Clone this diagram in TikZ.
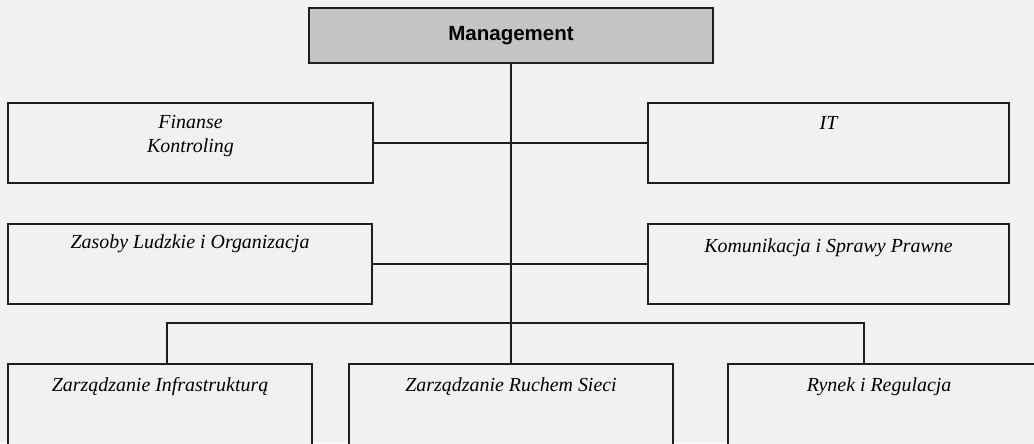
\documentclass[tikz,border=0pt]{standalone}
\usepackage{fontspec}
\setmainfont{Liberation Serif}
\newfontfamily\headfont{Liberation Sans}
\usepackage{tikz}
\usetikzlibrary{positioning}
\definecolor{orgpaper}{RGB}{241,241,241}
\definecolor{orghead}{RGB}{196,196,196}
\definecolor{orgline}{RGB}{30,30,30}
\newcommand\orgpx{0.03cm}

\tikzset{
  unitbox/.style={draw=orgline, line width=1.8pt, fill=orgpaper, anchor=north west, inner sep=0pt},
  headbox/.style={unitbox, fill=orghead, font=\headfont\fontsize{17.5}{20}\selectfont\bfseries},
  unitlabel/.style={font=\fontsize{17}{20.5}\selectfont\itshape, align=center, inner sep=0pt},
  link/.style={draw=orgline, line width=1.6pt}
}

\begin{document}
\begin{tikzpicture}[x=0.03cm, y=-0.03cm]
% ---- frame ----
\useasboundingbox (0,0) rectangle (1034,443);
\fill[orgpaper] (0,0) rectangle (1034,443);
\clip (0,0) rectangle (1034,443);

% ---- top ----
\node[headbox, minimum width=404*\orgpx, minimum height=55*\orgpx] (mgmt) at (308,7) {Management};

% ---- first row ----
\node[unitbox, minimum width=365*\orgpx, minimum height=80*\orgpx] (fin) at (7,102) {};
\node[unitlabel, below=13*\orgpx of fin.north] (fin-txt) {Finanse\\Kontroling};
\node[unitbox, minimum width=361*\orgpx, minimum height=80*\orgpx] (it) at (647,102) {};
\node[unitlabel, below=14*\orgpx of it.north] (it-txt) {IT};

% ---- second row ----
\node[unitbox, minimum width=364*\orgpx, minimum height=80*\orgpx] (zas) at (7,223) {};
\node[unitlabel, below=11*\orgpx of zas.north] (zas-txt) {Zasoby Ludzkie i Organizacja};
\node[unitbox, minimum width=361*\orgpx, minimum height=80*\orgpx] (kom) at (647,223) {};
\node[unitlabel, below=15*\orgpx of kom.north] (kom-txt) {Komunikacja i Sprawy Prawne};

% ---- bottom row (cut by the frame) ----
\node[unitbox, minimum width=304*\orgpx, minimum height=100*\orgpx] (infra) at (7,363) {};
\node[unitlabel, below=14*\orgpx of infra.north] (infra-txt) {Zarządzanie Infrastrukturą};
\node[unitbox, minimum width=324*\orgpx, minimum height=100*\orgpx] (ruch) at (348,363) {};
\node[unitlabel, below=14*\orgpx of ruch.north] (ruch-txt) {Zarządzanie Ruchem Sieci};
\node[unitbox, minimum width=330*\orgpx, minimum height=100*\orgpx] (rynek) at (727,363) {};
\node[unitlabel, below=14*\orgpx of rynek.north, xshift=-14*\orgpx] (rynek-txt) {Rynek i Regulacja};

% ---- connectors ----
\coordinate (busL) at (167,323);
\coordinate (busR) at (864,323);
\draw[link] (mgmt.south) -- (ruch.north);
\draw[link] (fin.east) -- (it.west);
\draw[link] (zas.east) -- (kom.west);
\draw[link] (busL |- infra.north) -- (busL) -- (busR) -- (busR |- rynek.north);
\end{tikzpicture}
\end{document}
